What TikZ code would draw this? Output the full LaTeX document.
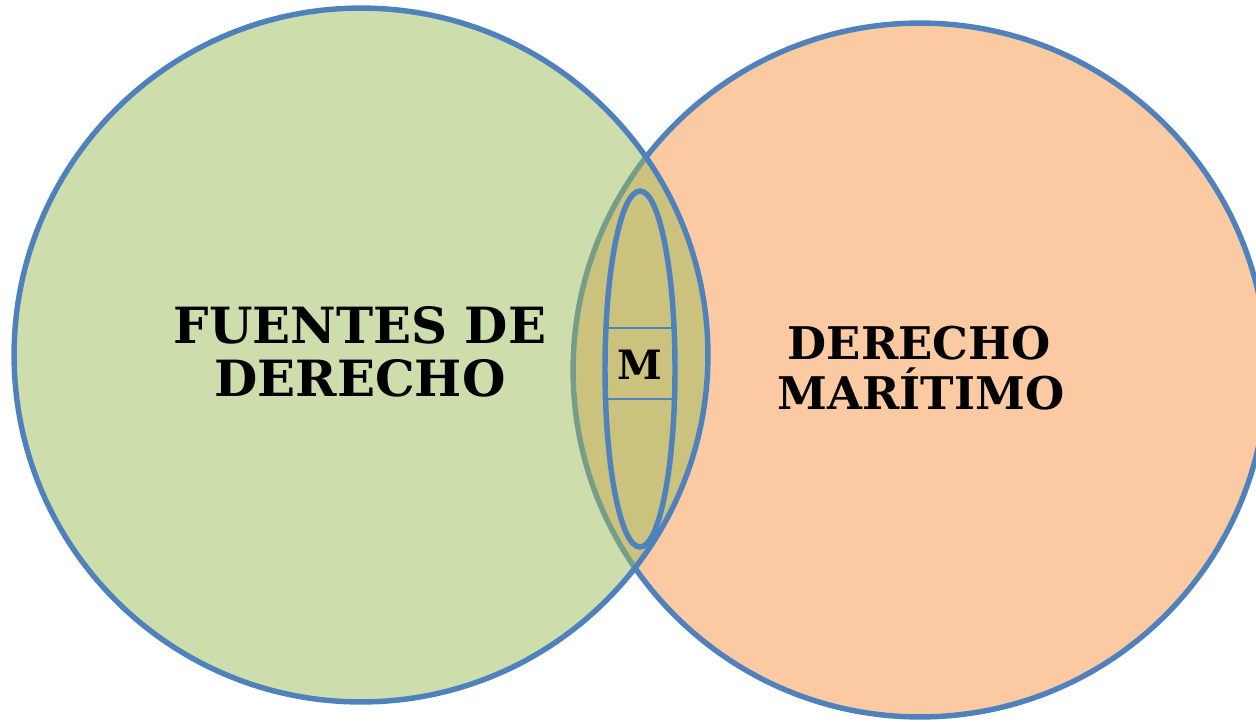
\documentclass[tikz,border=0pt]{standalone}
\usepackage{fontspec}
\setmainfont{DejaVu Serif}
\definecolor{ringblue}{HTML}{4F81BD}
\definecolor{offgreen}{HTML}{9BBB59}
\definecolor{offorange}{HTML}{F79646}
\begin{document}
\begin{tikzpicture}[x=0.02cm,y=-0.02cm,
  ring/.style={draw=ringblue,line width=3.1pt},
  bigtext/.style={font=\fontsize{28.4}{30}\selectfont\bfseries,inner sep=0pt,anchor=base},
  midtext/.style={font=\fontsize{25.6}{27}\selectfont\bfseries,inner sep=0pt,anchor=base},
  smalltext/.style={font=\fontsize{23}{24}\selectfont\bfseries,inner sep=0pt,anchor=base}]
\useasboundingbox (0,0) rectangle (1256,721);
\clip (0,0) rectangle (1256,721);
% right circle (orange)
\fill[offorange,fill opacity=0.5] (920,370) circle [radius=6.94cm];
\draw[ring] (920,370) circle [radius=6.94cm];
% left circle (green), drawn on top
\fill[offgreen,fill opacity=0.5] (361,355) circle [radius=6.94cm];
\draw[ring] (361,355) circle [radius=6.94cm];
% label box and ellipse
\draw[ringblue,line width=0.85pt] (605,328) rectangle (675,399);
\draw[ring] (640,369) ellipse [x radius=0.7cm, y radius=3.56cm];
% texts
\node[bigtext] (l1) at (360,343) {FUENTES DE};
\node[bigtext] (l2) at (360,396) {DERECHO};
\node[midtext] (r1) at (919,359) {DERECHO};
\node[midtext] (r2) at (921,409) {MARÍTIMO};
\node[smalltext] (m) at (640,379) {M};
\end{tikzpicture}
\end{document}
